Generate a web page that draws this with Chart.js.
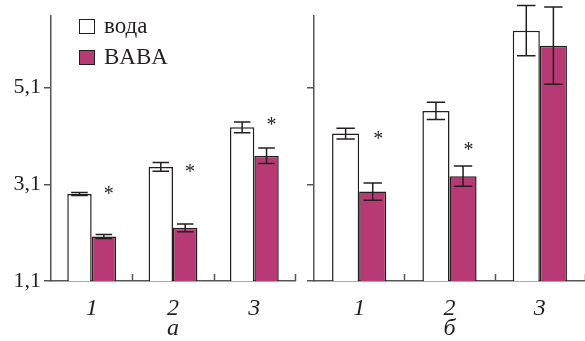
<!DOCTYPE html>
<html lang="ru">
<head>
    <meta charset="UTF-8">
    <title>вода / BABA</title>
    <script src="https://cdn.jsdelivr.net/npm/chart.js"></script>
    <style>
        body {
            margin: 0;
            background: #fff;
            font-family: 'Liberation Serif', 'DejaVu Serif', serif;
        }
        .wrap {
            position: relative;
            width: 585px;
            height: 341px;
            overflow: hidden;
        }
        #chartA { position: absolute; left: 0; top: 0; }
        #chartB { position: absolute; left: 300px; top: 0; }
        .legend {
            position: absolute;
            left: 79px;
            font-size: 23px;
            line-height: 23px;
            color: #231f20;
        }
        .legend .box {
            display: inline-block;
            width: 14px;
            height: 13px;
            border: 1.5px solid #231f20;
            vertical-align: -1px;
            margin-right: 9px;
        }
    </style>
</head>
<body>
    <div class="wrap">
        <canvas id="chartA" width="300" height="341"></canvas>
        <canvas id="chartB" width="285" height="341"></canvas>
        <div class="legend" style="top:14px"><span class="box" style="background:#fff"></span>вода</div>
        <div class="legend" style="top:45px"><span class="box" style="background:#b83a74"></span>BABA</div>
    </div>
    <script>
        // данные
        const categories = ['1', '2', '3'];
        const yTicks = [1.1, 3.1, 5.1];
        const yMin = 1.1;
        const yMax = 6.58;

        // панель а
        const waterA = [2.90, 3.46, 4.28];
        const waterErrA = [0.03, 0.09, 0.11];
        const babaA = [2.02, 2.20, 3.69];
        const babaErrA = [0.04, 0.08, 0.16];
        const starA = [2.96, 3.43, 4.40];

        // панель б
        const waterB = [4.15, 4.62, 6.28];
        const waterErrB = [0.11, 0.18, 0.52];
        const babaB = [2.95, 3.27, 5.97];
        const babaErrB = [0.18, 0.21, 0.80];
        const starB = [4.11, 3.88, null];

        const ink = '#231f20';
        const axisColor = '#555';
        const magenta = '#b83a74';

        const extras = {
            id: 'extras',
            afterDatasetsDraw(chart, args, opts) {
                const ctx = chart.ctx;
                const y = chart.scales.y;
                const x = chart.scales.x;
                ctx.save();
                ctx.strokeStyle = ink;
                ctx.lineWidth = 1.5;
                // планки погрешностей
                chart.data.datasets.forEach((ds, i) => {
                    chart.getDatasetMeta(i).data.forEach((bar, j) => {
                        const v = ds.data[j], e = ds.err[j];
                        const top = y.getPixelForValue(v + e);
                        const bot = y.getPixelForValue(v - e);
                        const half = bar.width * 0.34;
                        ctx.beginPath();
                        ctx.moveTo(bar.x, top); ctx.lineTo(bar.x, bot);
                        ctx.moveTo(bar.x - half, top); ctx.lineTo(bar.x + half, top);
                        ctx.moveTo(bar.x - half, bot); ctx.lineTo(bar.x + half, bot);
                        ctx.stroke();
                    });
                });
                // звездочки
                const magMeta = chart.getDatasetMeta(1);
                ctx.fillStyle = ink;
                ctx.font = '20px "Liberation Serif"';
                ctx.textAlign = 'center';
                ctx.textBaseline = 'middle';
                opts.stars.forEach((s, j) => {
                    if (s === null) return;
                    const bar = magMeta.data[j];
                    ctx.fillText('*', bar.x + bar.width * 0.2, y.getPixelForValue(s) + 4);
                });
                // засечки на оси x
                ctx.strokeStyle = axisColor;
                const w = (x.right - x.left) / categories.length;
                ctx.beginPath();
                for (let i = 1; i <= categories.length; i++) {
                    const px = Math.round(x.left + i * w) + 0.5;
                    ctx.moveTo(px, y.bottom);
                    ctx.lineTo(px, y.bottom - 7);
                }
                ctx.stroke();
                ctx.restore();
            }
        };

        function makeChart(id, water, waterErr, baba, babaErr, stars, title, yWidth, showLabels) {
            return new Chart(document.getElementById(id), {
                type: 'bar',
                data: {
                    labels: categories,
                    datasets: [
                        { label: 'вода', data: water, err: waterErr, backgroundColor: '#fff', borderColor: ink, borderWidth: 1.5 },
                        { label: 'BABA', data: baba, err: babaErr, backgroundColor: magenta, borderColor: ink, borderWidth: 1.5 }
                    ]
                },
                options: {
                    responsive: false,
                    animation: false,
                    devicePixelRatio: 1,
                    layout: { padding: { top: 15, right: id === 'chartA' ? 5 : 0, left: 0, bottom: 0 } },
                    plugins: {
                        legend: { display: false },
                        tooltip: { enabled: false },
                        extras: { stars: stars }
                    },
                    datasets: { bar: { categoryPercentage: 0.6, barPercentage: 1.0, borderSkipped: 'start' } },
                    scales: {
                        x: {
                            grid: { display: false },
                            border: { color: axisColor, width: 1.5 },
                            ticks: { color: ink, font: { family: 'Liberation Serif', size: 24, style: 'italic' }, padding: 5 },
                            title: {
                                display: true, text: title, color: ink,
                                font: { family: 'Liberation Serif', size: 24, style: 'italic', lineHeight: 1 },
                                padding: { top: -2, bottom: 0 }
                            },
                            afterFit(scale) { scale.height = 60; }
                        },
                        y: {
                            min: yMin,
                            max: yMax,
                            afterBuildTicks(scale) { scale.ticks = yTicks.map(v => ({ value: v })); },
                            grid: { drawOnChartArea: false, color: axisColor, lineWidth: 1.5, tickLength: 7 },
                            border: { color: axisColor, width: 1.5 },
                            ticks: {
                                color: ink,
                                padding: 3,
                                font: { family: 'Liberation Serif', size: 22 },
                                callback: v => showLabels ? v.toFixed(1).replace('.', ',') : ''
                            },
                            afterFit(scale) { scale.width = yWidth; }
                        }
                    }
                },
                plugins: [extras]
            });
        }

        makeChart('chartA', waterA, waterErrA, babaA, babaErrA, starA, 'а', 51, true);
        makeChart('chartB', waterB, waterErrB, babaB, babaErrB, starB, 'б', 14, false);
    </script>
</body>
</html>
